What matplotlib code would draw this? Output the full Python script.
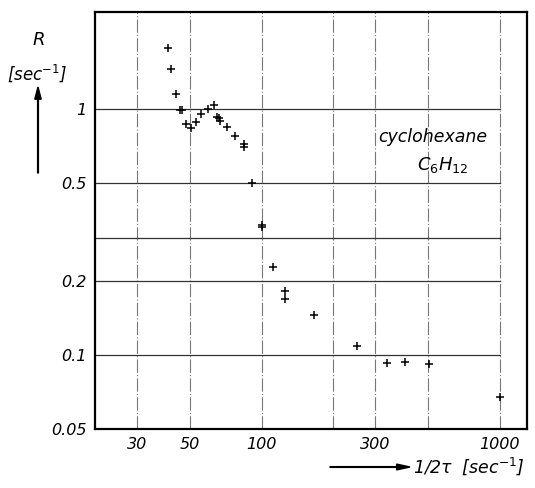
import matplotlib
matplotlib.use("Agg")
import matplotlib.pyplot as plt
from matplotlib.ticker import FixedLocator, FixedFormatter, NullLocator

# data
x_vals = [40.4, 41.7, 43.6, 45.3, 46.3, 48.2, 50.6, 53.2, 55.6, 59.6, 63.4, 64.9,
          66.1, 67.1, 71.9, 77.2, 84.5, 84.5, 91.5, 100.8, 100.8, 111.4, 125.6,
          125.6, 166.7, 251, 335.7, 401, 502, 998]
r_vals = [1.77, 1.45, 1.15, 0.99, 0.99, 0.867, 0.839, 0.883, 0.951, 1.0, 1.04, 0.93,
          0.916, 0.894, 0.843, 0.777, 0.721, 0.699, 0.499, 0.338, 0.332, 0.2286, 0.1826,
          0.1684, 0.1454, 0.1088, 0.093, 0.094, 0.0919, 0.0673]

x_ticks = [30, 50, 100, 300, 1000]
x_ticklabels = ["30", "50", "100", "300", "1000"]
y_ticks = [0.05, 0.1, 0.2, 0.5, 1]
y_ticklabels = ["0.05", "0.1", "0.2", "0.5", "1"]
x_grid = [30, 50, 100, 200, 300, 500, 1000]
y_grid = [0.1, 0.2, 0.3, 0.5, 1]

fig = plt.figure(figsize=(5.35, 4.88), dpi=100)
ax = fig.add_axes([95/535, 59/488, 432/535, 417/488])
ax.set_xscale("log")
ax.set_yscale("log")
ax.set_xlim(20, 1300)
ax.set_ylim(0.05, 2.48)

for xv in x_grid:
    ax.axvline(xv, color="#777777", lw=0.8, ls=(0, (12, 2, 1, 2)), zorder=1)
for yv in y_grid:
    ax.plot([20, 1000], [yv, yv], color="#333333", lw=0.9, zorder=1)

ax.plot(x_vals, r_vals, ls="none", marker="+", ms=6, mew=1.1, color="black", zorder=3)

ax.xaxis.set_major_locator(FixedLocator(x_ticks))
ax.xaxis.set_major_formatter(FixedFormatter(x_ticklabels))
ax.xaxis.set_minor_locator(NullLocator())
ax.yaxis.set_major_locator(FixedLocator(y_ticks))
ax.yaxis.set_major_formatter(FixedFormatter(y_ticklabels))
ax.yaxis.set_minor_locator(NullLocator())
ax.tick_params(length=0, labelsize=11.5, pad=6)
for lab in ax.get_xticklabels() + ax.get_yticklabels():
    lab.set_fontstyle("italic")
for s in ax.spines.values():
    s.set_linewidth(1.6)

ax.text(0.782, 0.70, "cyclohexane", transform=ax.transAxes, ha="center", va="center",
        fontsize=12.5, style="italic")
ax.text(0.806, 0.633, r"$C_6H_{12}$", transform=ax.transAxes, ha="center", va="center",
        fontsize=13, math_fontfamily="dejavusans")

# y axis label
fig.text(39/535, 1 - 40/488, "R", ha="center", va="center", fontsize=13, style="italic")
fig.text(37/535, 1 - 73/488, r"[sec$^{\mathit{-1}}$]", ha="center", va="center",
         fontsize=12, style="italic")
fig.patches.append(matplotlib.patches.FancyArrow(
    38/535, 1 - 173/488, 0, 86/488, width=0.0015, head_width=0.012, head_length=0.025,
    length_includes_head=True, color="black", transform=fig.transFigure, figure=fig))

# x axis label
fig.patches.append(matplotlib.patches.FancyArrow(
    330/535, 1 - 467/488, 80/535, 0, width=0.0015, head_width=0.012, head_length=0.025,
    length_includes_head=True, color="black", transform=fig.transFigure, figure=fig))
fig.text(413/535, 1 - 466/488, r"1/2$\mathit{\tau}$  [sec$^{\mathit{-1}}$]", ha="left",
         va="center", fontsize=12.5, style="italic")

fig.savefig("out.png", dpi=100)
